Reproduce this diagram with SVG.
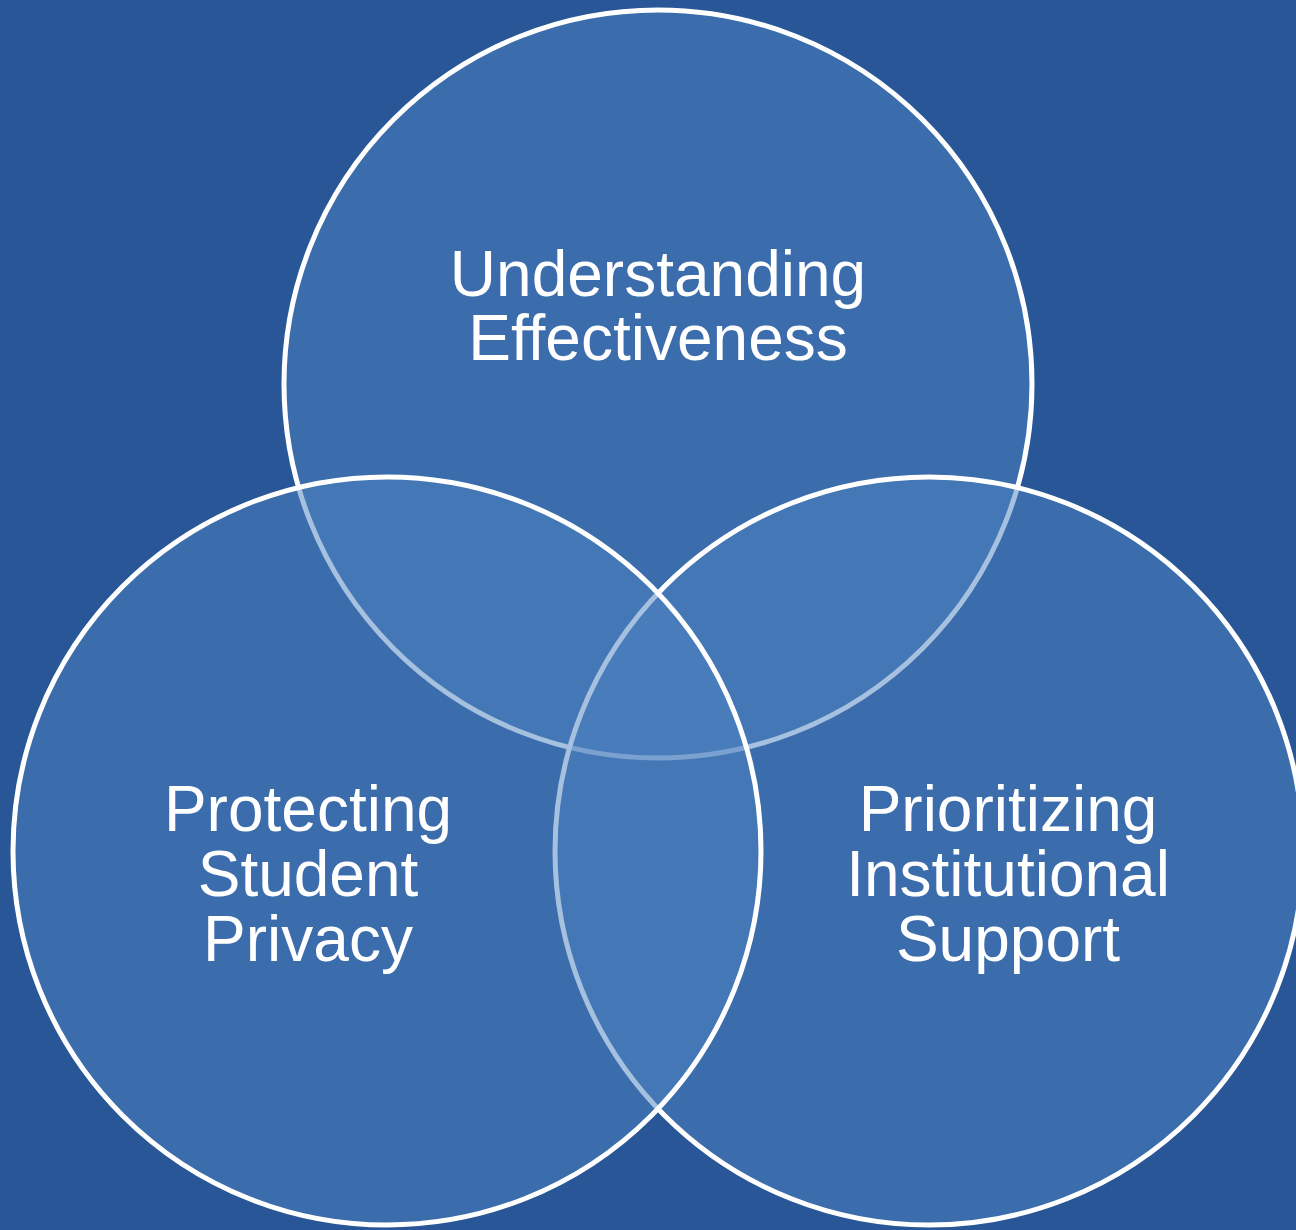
<svg xmlns="http://www.w3.org/2000/svg" width="1296" height="1230" viewBox="0 0 1296 1230">
  <style>
    .c { fill: #4e82c0; fill-opacity: 0.5; stroke: #ffffff; stroke-width: 5; }
    .t { font-family: "Liberation Sans", Arial, sans-serif; font-size: 64px; fill: #ffffff; text-anchor: middle; }
  </style>
  <rect x="0" y="0" width="1296" height="1230" fill="#285696"/>
  <g id="top">
    <circle class="c" cx="658" cy="384" r="374"/>
    <text class="t" x="658" y="296">Understanding</text>
    <text class="t" x="658" y="360">Effectiveness</text>
  </g>
  <g id="right">
    <circle class="c" cx="929" cy="851" r="374"/>
    <text class="t" x="1008" y="831">Prioritizing</text>
    <text class="t" x="1008" y="896">Institutional</text>
    <text class="t" x="1008" y="961">Support</text>
  </g>
  <g id="left">
    <circle class="c" cx="387" cy="851" r="374"/>
    <text class="t" x="308" y="831">Protecting</text>
    <text class="t" x="308" y="896">Student</text>
    <text class="t" x="308" y="961">Privacy</text>
  </g>
  <g id="connectors"></g>
</svg>
